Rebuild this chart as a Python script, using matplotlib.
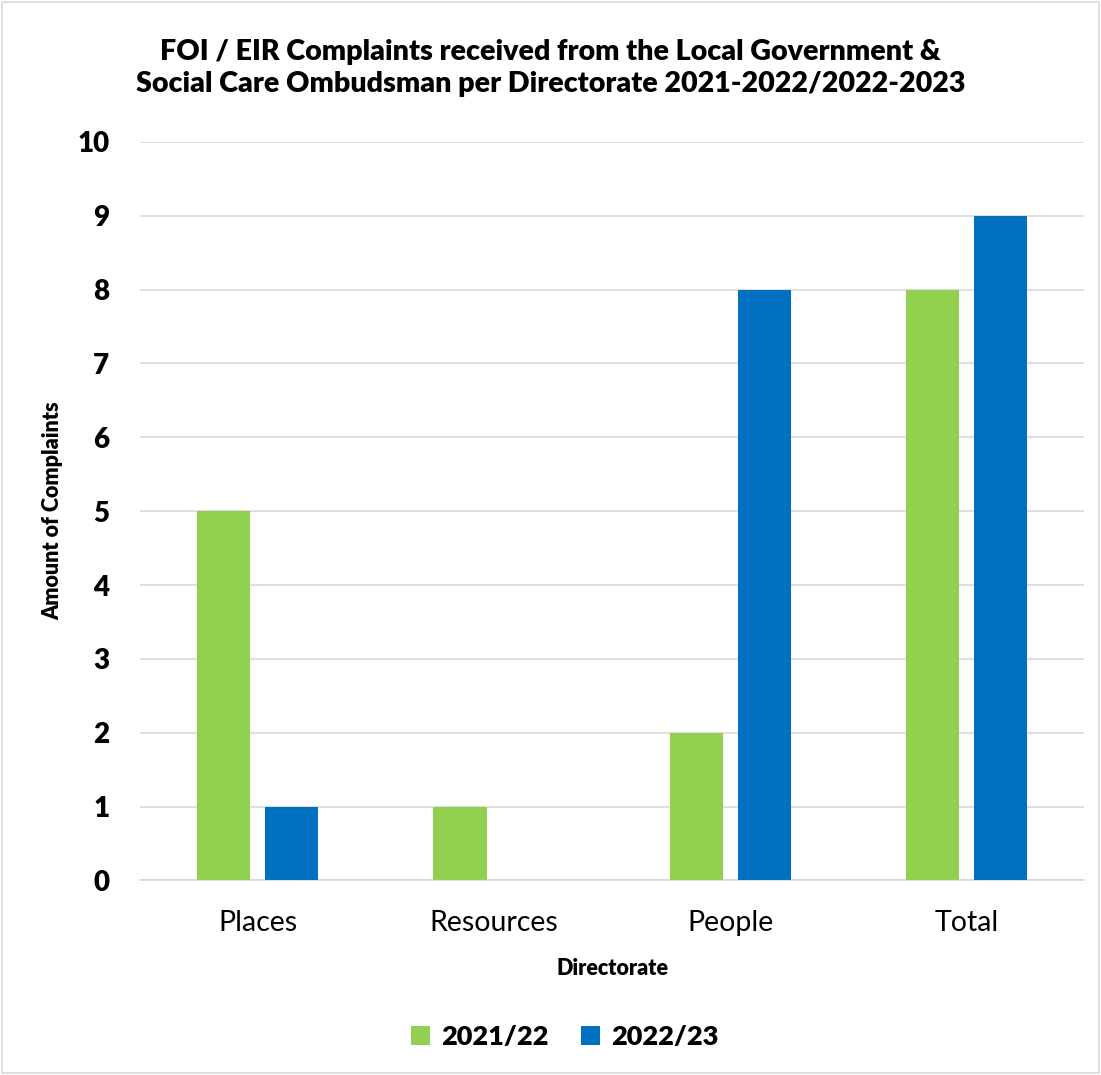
import numpy as np
import matplotlib.pyplot as plt
from matplotlib.patches import Rectangle

plt.rcParams['font.family'] = ['Lato', 'DejaVu Sans']

# data
directorates = ['Places', 'Resources', 'People', 'Total']
y2021 = [5, 1, 2, 8]
y2022 = [1, 0, 8, 9]

fig = plt.figure(figsize=(11.01, 10.75), dpi=100)
ax = fig.add_axes([0.127, 0.181, 0.858, 0.687])

x = np.arange(len(directorates))
w = 0.225
ax.bar(x - 0.144, y2021, w, color='#92D050', label='2021/22', zorder=3)
ax.bar(x + 0.144, y2022, w, color='#0070C0', label='2022/23', zorder=3)

ax.set_ylim(0, 10)
ax.set_xlim(-0.5, 3.5)
ax.set_yticks(range(0, 11))
ax.yaxis.grid(True, color='#d9d9d9', linewidth=1.2, zorder=0)
for s in ['top', 'right', 'left']:
    ax.spines[s].set_visible(False)
ax.spines['bottom'].set_color('#d9d9d9')
ax.spines['bottom'].set_linewidth(1.2)
ax.tick_params(axis='both', length=0)
ax.tick_params(axis='y', labelsize=20, pad=22)
ax.tick_params(axis='x', labelsize=20.5, pad=21)
for t in ax.get_yticklabels():
    t.set_fontweight('heavy')
ax.set_xticks(x)
ax.set_xticklabels(directorates)

ax.set_ylabel('Amount of Complaints', fontsize=15.5, fontweight='heavy', labelpad=10)
ax.set_xlabel('Directorate', fontsize=15.5, fontweight='heavy', labelpad=16)

fig.suptitle('FOI / EIR Complaints received from the Local Government &\n'
             'Social Care Ombudsman per Directorate 2021-2022/2022-2023',
             fontsize=20.6, fontweight='heavy', y=0.964, linespacing=1.32)

leg = fig.legend(loc='center', bbox_to_anchor=(0.513, 0.035), ncol=2, frameon=False,
                 prop={'size': 19.5, 'weight': 'heavy'}, handlelength=0.7, handleheight=0.7,
                 columnspacing=1.2, handletextpad=0.4)

fig.patches.append(Rectangle((0.002, 0.002), 0.996, 0.996, transform=fig.transFigure,
                             fill=False, edgecolor='#d9d9d9', linewidth=1.2))

fig.savefig('out.png', dpi=100)
